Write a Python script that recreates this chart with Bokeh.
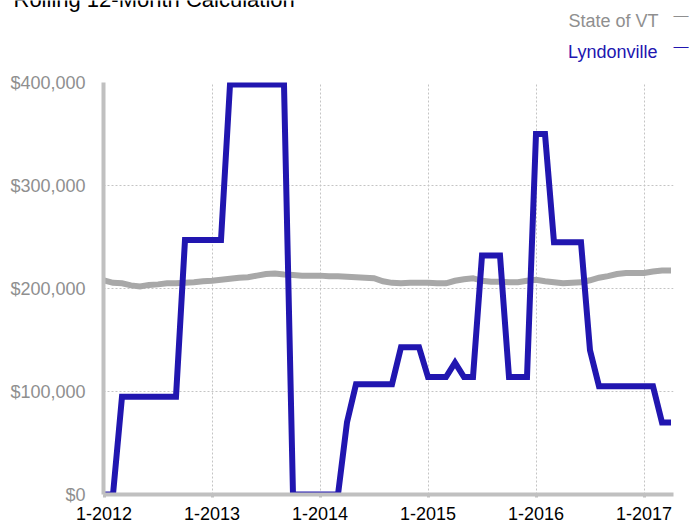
from bokeh.plotting import figure
from bokeh.layouts import column
from bokeh.models import Range1d, FixedTicker, NumeralTickFormatter, Label, ColumnDataSource
from bokeh.embed import file_html
from bokeh.resources import INLINE

# ---- data ----
months = [f"{m}-{y}" for y in range(2012, 2018) for m in range(1, 13)][:64]
tick_labels = ["1-2012", "1-2013", "1-2014", "1-2015", "1-2016", "1-2017"]
y_ticks = [0, 100000, 200000, 300000, 400000]
series_names = ["State of VT", "Lyndonville"]
chart_title = "Rolling 12-Month Calculation"

state_of_vt = [208000, 205500, 205000, 203000, 202000, 203500, 204000, 205000,
               205000, 205500, 206000, 207000, 207500, 208500, 209500, 210500,
               211000, 212500, 214000, 214500, 213500, 213000, 212500, 212500,
               212500, 212000, 212000, 211500, 211000, 210500, 210000, 207000,
               205500, 205000, 205500, 205500, 205500, 205000, 205000, 207500,
               209000, 210000, 207500, 206500, 206500, 206000, 206000, 207500,
               208500, 207000, 206000, 205000, 205500, 206000, 208000, 210500,
               212000, 214000, 215000, 215000, 215000, 216500, 217500, 217500]

lyndonville = [0, 0, 95000, 95000, 95000, 95000, 95000, 95000,
               95000, 247000, 247000, 247000, 247000, 247000, 398000, 398000,
               398000, 398000, 398000, 398000, 398000, 0, 0, 0,
               0, 0, 0, 70000, 107000, 107000, 107000, 107000,
               107000, 143000, 143000, 143000, 114000, 114000, 114000, 128000,
               114000, 114000, 232000, 232000, 232000, 114000, 114000, 114000,
               350000, 350000, 245000, 245000, 245000, 245000, 140000, 105000,
               105000, 105000, 105000, 105000, 105000, 105000, 70000, 70000]

idx = list(range(len(months)))
src = ColumnDataSource(dict(x=idx, month=months, vt=state_of_vt, lyn=lyndonville))

FONT = "Liberation Sans"
BLUE = "#2116b0"
GRAY_LINE = "#a8a8a8"
AXIS_GRAY = "#c0c0c0"
LABEL_GRAY = "#8f8f8f"

# ---- header (title + legend) ----
hdr = figure(width=689, height=72, output_backend="svg", toolbar_location=None,
             x_range=Range1d(0, 689), y_range=Range1d(72, 0),
             x_axis_type=None, y_axis_type=None,
             min_border=0, min_border_left=0, min_border_right=0,
             min_border_top=0, min_border_bottom=0)
hdr.outline_line_color = None
hdr.grid.visible = False
hdr.frame_align = False

def lab(**kw):
    hdr.add_layout(Label(text_font=FONT, **kw))

lab(x=13, y=-1, text=chart_title, text_font_size="22px",
    text_color="black", text_baseline="alphabetic", text_align="left")
lab(x=658, y=20, text=series_names[0], text_font_size="18px",
    text_color=LABEL_GRAY, text_align="right", text_baseline="alphabetic")
lab(x=657, y=51, text=series_names[1], text_font_size="18px",
    text_color=BLUE, text_align="right", text_baseline="alphabetic")
lab(x=673, y=14, text="\u2014", text_font_size="15px",
    text_color=LABEL_GRAY, text_align="left", text_baseline="middle")
lab(x=673, y=45, text="\u2014", text_font_size="15px",
    text_color=BLUE, text_align="left", text_baseline="middle")

# ---- main chart ----
p = figure(width=689, height=453, output_backend="svg", toolbar_location=None,
           x_range=Range1d(-0.5 / 9, 569.5 / 9), y_range=Range1d(0, 400000),
           min_border_left=103, min_border_right=16, min_border_top=10,
           min_border_bottom=31)
p.outline_line_color = None
p.background_fill_color = "white"
p.frame_align = False

tick_pos = [months.index(t) for t in tick_labels]
p.xaxis.ticker = FixedTicker(ticks=tick_pos)
p.xaxis.major_label_overrides = {months.index(t): t for t in tick_labels}
p.yaxis.ticker = FixedTicker(ticks=y_ticks)
p.yaxis.formatter = NumeralTickFormatter(format="$0,0")
for g in (p.xgrid, p.ygrid):
    g.grid_line_color = "#c4c4c4"
    g.grid_line_dash = "2 2"
    g.grid_line_width = 1

p.xaxis.axis_line_color = AXIS_GRAY
p.xaxis.axis_line_width = 4
p.xaxis.major_tick_line_color = AXIS_GRAY
p.xaxis.major_tick_line_width = 3
p.xaxis.major_tick_out = 3
p.xaxis.major_tick_in = 0
p.xaxis.minor_tick_line_color = None
p.xaxis.major_label_text_font = FONT
p.xaxis.major_label_text_font_size = "18px"
p.xaxis.major_label_text_color = "black"
p.xaxis.major_label_standoff = 9

p.yaxis.axis_line_color = AXIS_GRAY
p.yaxis.axis_line_width = 4
p.yaxis.major_tick_line_color = None
p.yaxis.minor_tick_line_color = None
p.yaxis.major_tick_out = 0
p.yaxis.major_tick_in = 0
p.yaxis.major_label_text_font = FONT
p.yaxis.major_label_text_font_size = "18px"
p.yaxis.major_label_text_color = LABEL_GRAY
p.yaxis.major_label_standoff = 18

p.line("x", "vt", source=src, line_width=6, line_color=GRAY_LINE, line_join="miter")
p.line("x", "lyn", source=src, line_width=6, line_color=BLUE, line_join="miter")

layout = column(hdr, p, spacing=0)
open("out.html", "w").write(file_html(layout, INLINE))
